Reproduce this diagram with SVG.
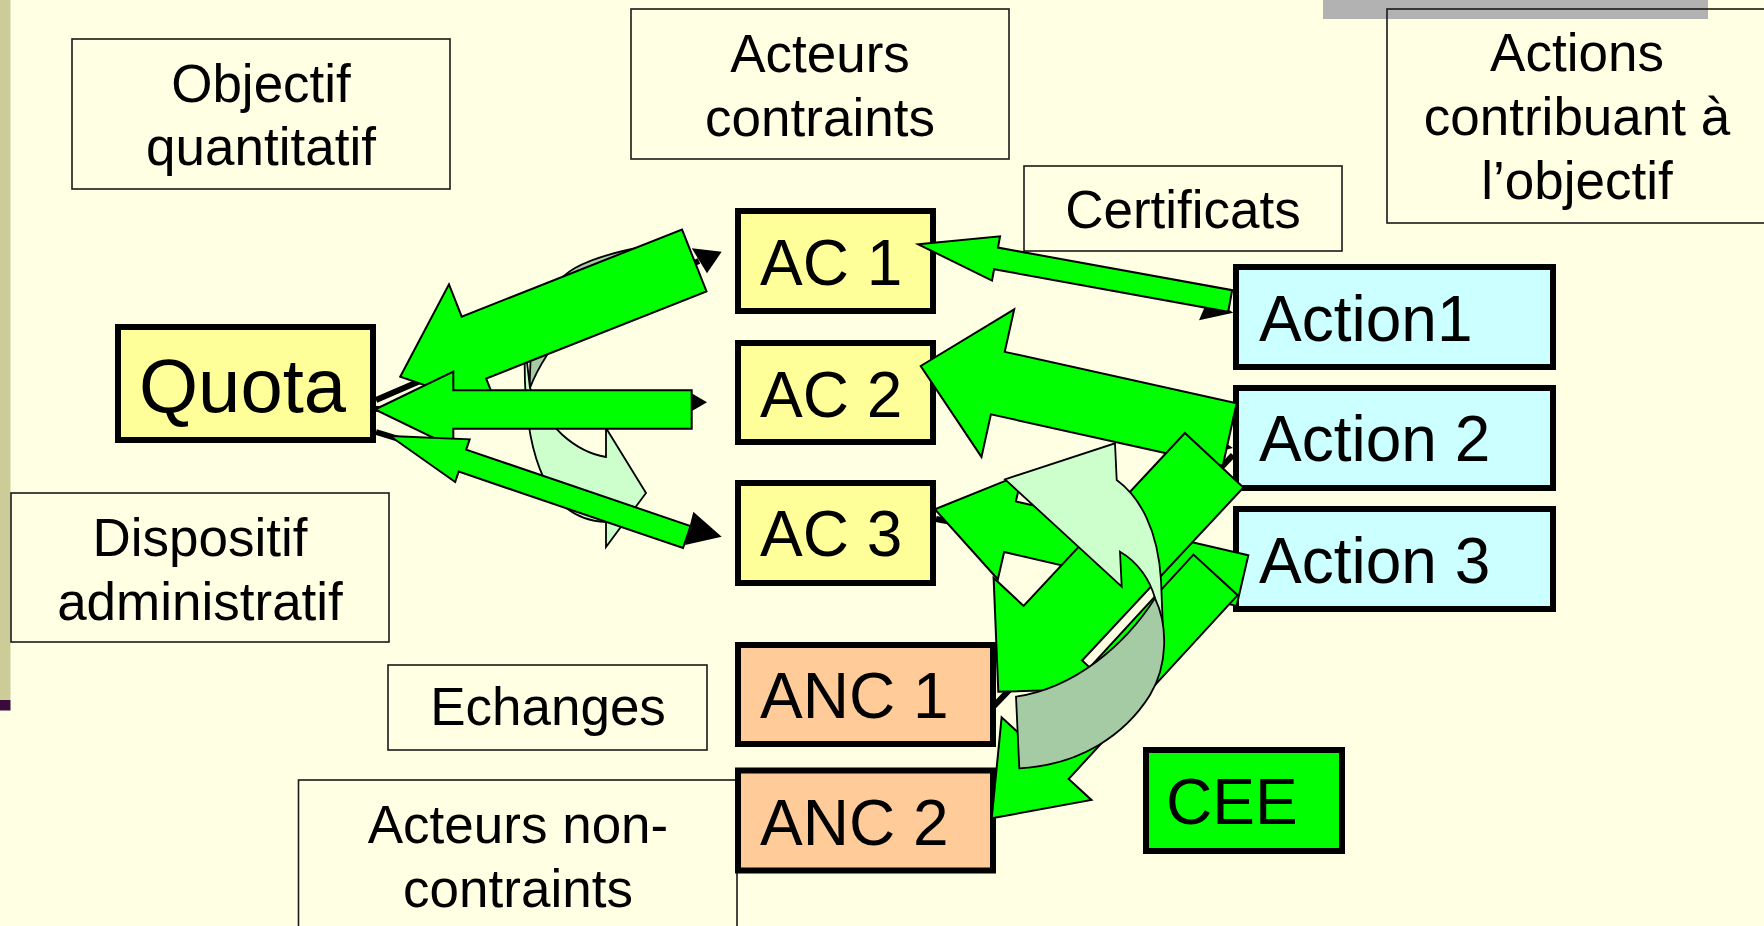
<svg xmlns="http://www.w3.org/2000/svg" width="1764" height="926" viewBox="0 0 1764 926">
<style>
.lbl{fill:none;stroke:#1a1a1a;stroke-width:1.6}
.lt{font-family:"Liberation Sans",Arial,sans-serif;font-size:53px;fill:#000;text-anchor:middle}
.node{stroke:#000;stroke-width:6}
.nt{font-family:"Liberation Sans",Arial,sans-serif;font-size:64px;fill:#000}
.ac{fill:#FFFF99}
.anc{fill:#FFCC99}
.act{fill:#CCFFFF}
.g{fill:#00FF00;stroke:#000;stroke-width:2;stroke-linejoin:miter}
.cl{fill:#CCFFCC;stroke:#000;stroke-width:1.8}
.cd{fill:#A5CBA5;stroke:#000;stroke-width:1.8}
.bl{stroke:#000;stroke-width:6;fill:none}
.bh{fill:#000}
</style>
<rect x="0" y="0" width="1764" height="926" fill="#FFFFE3"/>
<rect x="0" y="0" width="10.5" height="700" fill="#CCCC99"/>
<rect x="0" y="700" width="10.5" height="10.5" fill="#3A0A3A"/>
<rect x="1323" y="0" width="385" height="19" fill="#B2B2B2"/>

<g id="t-objectif"><rect class="lbl" x="72" y="39" width="378" height="150"/><text class="lt" x="261" y="102">Objectif</text><text class="lt" x="261" y="165">quantitatif</text></g>
<g id="t-acteurs-contraints"><rect class="lbl" x="631" y="9" width="378" height="150"/><text class="lt" x="820" y="72">Acteurs</text><text class="lt" x="820" y="136">contraints</text></g>
<g id="t-certificats"><rect class="lbl" x="1024" y="166" width="318" height="85"/><text class="lt" x="1183" y="228">Certificats</text></g>
<g id="t-actions"><rect class="lbl" x="1387" y="9" width="400" height="214"/><text class="lt" x="1577" y="71">Actions</text><text class="lt" x="1577" y="135">contribuant à</text><text class="lt" x="1577" y="199">l’objectif</text></g>
<g id="t-dispositif"><rect class="lbl" x="11" y="493" width="378" height="149"/><text class="lt" x="200" y="556">Dispositif</text><text class="lt" x="200" y="620">administratif</text></g>
<g id="t-echanges"><rect class="lbl" x="388" y="665" width="319" height="85"/><text class="lt" x="548" y="725">Echanges</text></g>
<g id="t-acteurs-non"><rect class="lbl" x="298.5" y="780" width="438.5" height="170"/><text class="lt" x="518" y="843">Acteurs non-</text><text class="lt" x="518" y="907">contraints</text></g>

<g id="quota"><rect class="node ac" x="118" y="327" width="255" height="113"/><text class="nt" x="139" y="412" style="font-size:76px">Quota</text></g>
<g id="ac1"><rect class="node ac" x="738" y="211" width="195" height="100"/><text class="nt" x="760" y="285">AC 1</text></g>
<g id="ac2"><rect class="node ac" x="738" y="343" width="195" height="99"/><text class="nt" x="760" y="417">AC 2</text></g>
<g id="ac3"><rect class="node ac" x="738" y="483" width="195" height="100"/><text class="nt" x="760" y="556">AC 3</text></g>
<g id="anc1"><rect class="node anc" x="738" y="645" width="255" height="99"/><text class="nt" x="760" y="718">ANC 1</text></g>
<g id="anc2"><rect class="node anc" x="738" y="770.5" width="255" height="100"/><text class="nt" x="760" y="845">ANC 2</text></g>
<g id="action1"><rect class="node act" x="1236" y="267" width="317" height="100"/><text class="nt" x="1259" y="341">Action1</text></g>
<g id="action2"><rect class="node act" x="1236" y="388" width="317" height="100"/><text class="nt" x="1259" y="461">Action 2</text></g>
<g id="action3"><rect class="node act" x="1236" y="509" width="317" height="100"/><text class="nt" x="1259" y="583">Action 3</text></g>
<g id="cee"><rect class="node" fill="#00FF00" x="1146" y="750" width="196" height="101"/><text class="nt" x="1166" y="824">CEE</text></g>

<g id="connectors">
  <line class="bl" x1="376" y1="400" x2="699" y2="261"/>
  <polygon class="bh" points="721.7,251.7 691.8,248.3 707,273.3"/>
  <line class="bl" x1="376" y1="409" x2="693" y2="402.3"/>
  <polygon class="bh" points="707,402.3 692,393.5 692,411"/>
  <line class="bl" x1="376" y1="432" x2="689" y2="528"/>
  <polygon class="bh" points="721.7,536.7 693.3,511.7 685,545"/>
  <line class="bl" x1="945" y1="250" x2="1210" y2="301" style="stroke-width:5"/>
  <polygon class="bh" points="1233.3,312.7 1199,320.3 1209,297"/>
  <line class="bl" x1="952" y1="401" x2="1204" y2="443"/>
  <polygon class="bh" points="1233,448 1201.2,455.6 1205.8,430"/>
  <line class="bl" x1="936" y1="519" x2="1233" y2="575"/>
  <line class="bl" x1="994" y1="706" x2="1233" y2="455"/>

  <g id="curve-left">
    <path class="cl" d="M606,522 L606,547 L646,493 L606,428 L606,457 C575,452 545,425 530,388 L525,345 C522,440 540,520 606,522 Z"/>
    <path class="cd" d="M530,388 C528,330 545,285 575,268 C595,257 620,250 660,244 L672,296 C620,300 570,320 547,355 C540,366 534,377 530,388 Z"/>
  </g>

  <polygon class="g" transform="translate(400.2,376.7) rotate(-21.56)" points="0,0 79.3,-68 79.3,-33.3 316.2,-33.3 316.2,33.3 79.3,33.3 79.3,68"/>
  <polygon class="g" transform="translate(375,409.5)" points="0,0 78.3,-38 78.3,-19.2 316.7,-19.2 316.7,19.2 78.3,19.2 78.3,38"/>
  <polygon class="g" transform="translate(390,436) rotate(18.8)" points="0,0 76.5,-22.5 76.5,-11.6 313.5,-11.6 313.5,11.6 76.5,11.6 76.5,22.5"/>

  <polygon class="g" transform="translate(918.3,244.3) rotate(10.3)" points="0,0 79,-22.5 79,-11 317,-11 317,11 79,11 79,22.5"/>
  <polygon class="g" transform="translate(920.7,366) rotate(12.5)" points="0,0 79,-75.6 79,-32 316.5,-32 316.5,32 79,32 79,75.6"/>
  <polygon class="g" transform="translate(935,509.3) rotate(13.05)" points="0,0 77,-54 77,-26 315.6,-26 315.6,26 77,26 77,54"/>
  <polygon class="g" transform="translate(998.3,691.7) rotate(-47)" points="0,0 80,-81 80,-40 316.5,-40 316.5,40 80,40 80,81"/>
  <polygon class="g" transform="translate(991.7,818.3) rotate(-47.4)" points="0,0 81,-61 81,-30 330.7,-30 330.7,30 81,30 81,61"/>

  <g id="curve-right">
    <path class="cl" d="M1005,479.3 L1115,443.3 L1116.7,480 C1140,497 1158,530 1161,580 L1163.5,643 L1155,598.3 C1150,580 1138,562 1120,551.7 L1121.7,586.7 Z"/>
    <path class="cd" d="M1016,696.7 C1075,688 1125,645 1155,598.3 C1168,625 1168,665 1150,695 C1125,735 1080,765 1019.3,768.3 Z"/>
  </g>
</g>
</svg>
